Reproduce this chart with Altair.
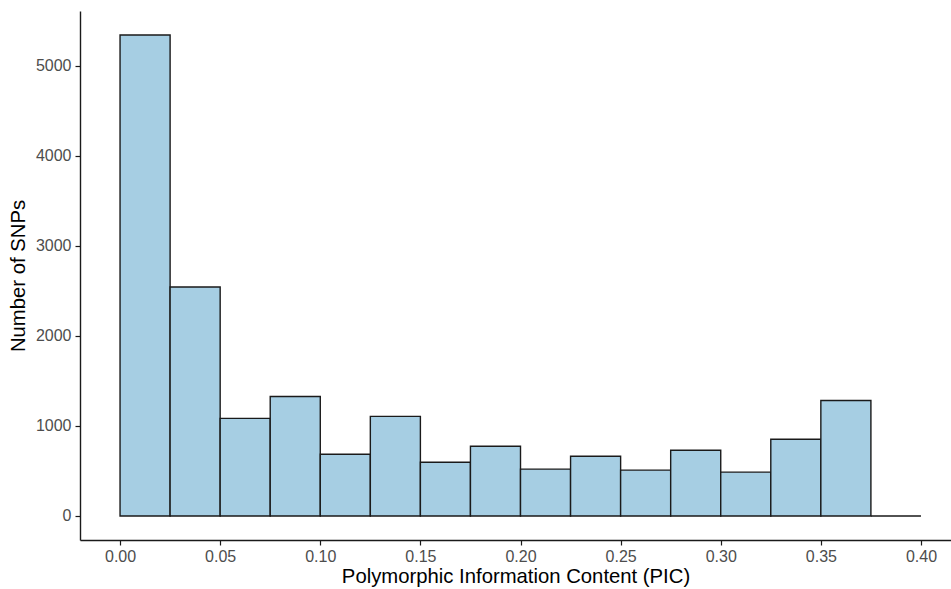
import altair as alt
import pandas as pd

# Histogram bins of PIC (width 0.025) and SNP counts per bin
bin_start = [0.000, 0.025, 0.050, 0.075, 0.100, 0.125, 0.150, 0.175,
             0.200, 0.225, 0.250, 0.275, 0.300, 0.325, 0.350, 0.375]
bin_width = 0.025
snp_count = [5343, 2544, 1084, 1327, 686, 1106, 597, 774,
             520, 664, 509, 730, 487, 852, 1283, 0]

df = pd.DataFrame({
    "start": bin_start,
    "end": [s + bin_width for s in bin_start],
    "count": snp_count,
    "zero": [0] * len(bin_start),
})

FONT = "Liberation Sans"

bars = alt.Chart(df).mark_rect(
    fill="#A6CEE3", stroke="#1a1a1a", strokeWidth=1.4
).encode(
    x=alt.X(
        "start:Q",
        scale=alt.Scale(domain=[-0.02, 0.415], nice=False, zero=False),
        axis=alt.Axis(
            title="Polymorphic Information Content (PIC)",
            values=[0, 0.05, 0.1, 0.15, 0.2, 0.25, 0.3, 0.35, 0.4],
            format=".2f",
            labelPadding=3,
            titlePadding=2,
        ),
    ),
    x2="end:Q",
    y=alt.Y(
        "zero:Q",
        scale=alt.Scale(domain=[-267, 5610], nice=False, zero=False),
        axis=alt.Axis(
            title="Number of SNPs",
            values=[0, 1000, 2000, 3000, 4000, 5000],
            format="d",
            labelPadding=4,
            titlePadding=7,
        ),
    ),
    y2="count:Q",
)

chart = bars.properties(
    width=871,
    height=529,
    background="white",
    autosize=alt.AutoSizeParams(type="none"),
    padding={"left": 80, "top": 11, "right": 0, "bottom": 49},
).configure_view(
    stroke=None
).configure_axis(
    grid=False,
    domainColor="#1a1a1a",
    domainWidth=1.4,
    tickColor="#1a1a1a",
    tickWidth=1.2,
    tickSize=5,
    labelColor="#4d4d4d",
    labelFont=FONT,
    labelFontSize=16,
    titleFont=FONT,
    titleFontSize=20.3,
    titleFontWeight="normal",
    titleColor="#000000",
)

chart.save("out.html", embed_options={"renderer": "svg", "actions": False})
